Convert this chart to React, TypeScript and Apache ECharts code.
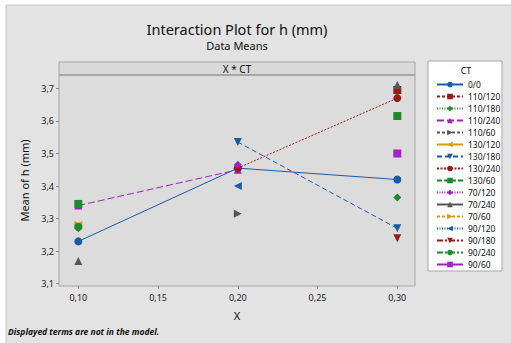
import React, { useEffect, useRef } from "react";
import * as echarts from "echarts";

const xValues = [0.1, 0.2, 0.3];
const xTicks = [0.1, 0.15, 0.2, 0.25, 0.3];
const yTicks = [3.1, 3.2, 3.3, 3.4, 3.5, 3.6, 3.7];

const ctLevels = [
  "0/0", "110/120", "110/180", "110/240", "110/60", "130/120", "130/180", "130/240",
  "130/60", "70/120", "70/240", "70/60", "90/120", "90/180", "90/240", "90/60",
];

const means: (number | null)[][] = [
  [3.23, 3.455, 3.42],
  [null, null, 3.695],
  [3.27, null, 3.365],
  [3.34, 3.45, null],
  [null, 3.315, null],
  [3.28, null, null],
  [null, 3.535, 3.27],
  [null, 3.455, 3.67],
  [3.345, null, 3.615],
  [null, 3.465, null],
  [3.17, null, 3.71],
  [3.28, null, null],
  [null, 3.40, null],
  [null, null, 3.24],
  [3.275, null, null],
  [null, null, 3.50],
];

const BLUE = "#1a5aa8";
const RED = "#9a1a1a";
const GREEN = "#1c8a2a";
const PURPLE = "#a020c0";
const GREY = "#555555";
const ORANGE = "#d99a10";

const TRI_DOWN = "path://M0,0L10,0L5,9Z";
const TRI_LEFT = "path://M9,0L9,10L0,5Z";
const TRI_RIGHT = "path://M0,0L0,10L9,5Z";

const styles: { color: string; dash: any; symbol: string }[] = [
  { color: BLUE, dash: "solid", symbol: "circle" },
  { color: RED, dash: [3, 2], symbol: "rect" },
  { color: GREEN, dash: [1, 1.5], symbol: "diamond" },
  { color: PURPLE, dash: [7, 3], symbol: "triangle" },
  { color: GREY, dash: [3, 2], symbol: TRI_RIGHT },
  { color: ORANGE, dash: "solid", symbol: TRI_LEFT },
  { color: BLUE, dash: [5, 3], symbol: TRI_DOWN },
  { color: RED, dash: [2, 1.5], symbol: "circle" },
  { color: GREEN, dash: [5, 2], symbol: "rect" },
  { color: PURPLE, dash: [1, 1.5], symbol: "diamond" },
  { color: GREY, dash: "solid", symbol: "triangle" },
  { color: ORANGE, dash: [3, 2], symbol: TRI_RIGHT },
  { color: BLUE, dash: [1, 1.5], symbol: TRI_LEFT },
  { color: RED, dash: [6, 2, 2, 2], symbol: TRI_DOWN },
  { color: GREEN, dash: [6, 2, 2, 2], symbol: "circle" },
  { color: PURPLE, dash: "solid", symbol: "rect" },
];

const fmt = (v: number, d: number) => v.toFixed(d).replace(".", ",");

export default function App() {
  const ref = useRef<HTMLDivElement>(null);
  useEffect(() => {
    if (!ref.current) return;
    const chart = echarts.init(ref.current, null, { renderer: "svg" });
    const font = "'Noto Sans', sans-serif";
    const series = ctLevels.map((name, i) => ({
      name,
      type: "line",
      data: xValues.map((x, j) => [x, means[i][j]]),
      connectNulls: false,
      symbol: styles[i].symbol,
      symbolSize: 8,
      showSymbol: true,
      itemStyle: { color: styles[i].color },
      lineStyle: { color: styles[i].color, width: 1, type: styles[i].dash },
      z: 3,
    }));
    chart.setOption({
      animation: false,
      backgroundColor: "#ffffff",
      textStyle: { fontFamily: font },
      graphic: [
        { type: "rect", z: -10, shape: { x: 6, y: 5, width: 520, height: 360 }, style: { fill: "#e3e3e3", stroke: "#c4c4c4", lineWidth: 1 } },
        { type: "rect", z: -5, shape: { x: 59, y: 75, width: 356, height: 211 }, style: { fill: "#dcdcdc" } },
        { type: "rect", z: 1, shape: { x: 59, y: 62, width: 356, height: 13 }, style: { fill: "#d9d9d9", stroke: "#a6a6a6", lineWidth: 1 } },
        { type: "line", z: 1, shape: { x1: 59, y1: 75, x2: 415, y2: 75 }, style: { stroke: "#a6a6a6", lineWidth: 2 } },
        { type: "text", z: 2, x: 237, y: 68.5, style: { text: "X * CT", fontSize: 10, fontFamily: font, fill: "#111", align: "center", verticalAlign: "middle" } },
        { type: "text", z: 2, x: 237, y: 29, style: { text: "Interaction Plot for h (mm)", fontSize: 14.5, fontFamily: font, fill: "#111", align: "center", verticalAlign: "middle" } },
        { type: "text", z: 2, x: 237, y: 45, style: { text: "Data Means", fontSize: 11, fontFamily: font, fill: "#111", align: "center", verticalAlign: "middle" } },
        { type: "text", z: 2, x: 8, y: 331, style: { text: "Displayed terms are not in the model.", fontSize: 8.5, fontWeight: "bold", fontStyle: "italic", fontFamily: font, fill: "#111", align: "left", verticalAlign: "middle" } },
        { type: "rect", z: 1, shape: { x: 428, y: 61, width: 74, height: 210 }, style: { fill: "#ffffff", stroke: "#a6a6a6", lineWidth: 1 } },
        { type: "text", z: 2, x: 466, y: 70, style: { text: "CT", fontSize: 9, fontFamily: font, fill: "#111", align: "center", verticalAlign: "middle" } },
      ],
      grid: { left: 59, right: 96, top: 75, bottom: 57, show: true, borderColor: "#a6a6a6", borderWidth: 1, backgroundColor: "transparent" },
      legend: {
        orient: "vertical",
        left: 431,
        top: 75,
        itemWidth: 26,
        itemHeight: 7,
        itemGap: 3,
        z: 5,
        textStyle: { fontSize: 8.5, color: "#111", fontFamily: font, padding: [0, 0, 0, 0] },
        data: ctLevels,
      },
      xAxis: {
        type: "value",
        min: 0.0879,
        max: 0.3111,
        name: "X",
        nameLocation: "middle",
        nameGap: 24,
        nameTextStyle: { fontSize: 11, color: "#111" },
        splitLine: { show: false },
        axisLine: { show: false },
        axisTick: { show: true, length: 3, lineStyle: { color: "#888" }, customValues: xTicks },
        axisLabel: { fontSize: 9, color: "#222", margin: 7, customValues: xTicks, formatter: (v: number) => fmt(v, 2) },
      },
      yAxis: {
        type: "value",
        min: 3.093,
        max: 3.741,
        name: "Mean of h (mm)",
        nameLocation: "middle",
        nameGap: 26,
        nameTextStyle: { fontSize: 11, color: "#111" },
        splitLine: { show: false },
        axisLine: { show: false },
        axisTick: { show: true, length: 3, lineStyle: { color: "#888" }, customValues: yTicks },
        axisLabel: { fontSize: 9, color: "#222", margin: 5, customValues: yTicks, formatter: (v: number) => fmt(v, 1) },
      },
      series,
    });
    return () => chart.dispose();
  }, []);
  return <div ref={ref} style={{ position: "fixed", left: 0, top: 0, width: 511, height: 343 }} />;
}
